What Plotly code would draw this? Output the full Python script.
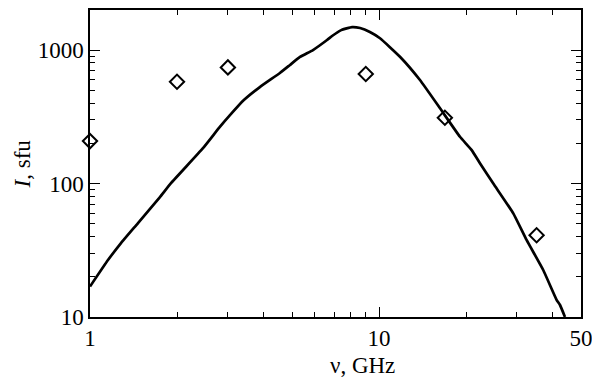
import plotly.graph_objects as go

# Observed flux (diamonds)
obs_freq = [1.0, 2.0, 3.0, 9.0, 16.9, 35.1]
obs_flux = [208, 579, 741, 661, 311, 41]

# Model spectrum (solid line)
model_freq = [1.0, 1.154, 1.28, 1.466, 1.746, 1.91, 2.46, 2.8, 3.05, 3.4, 3.87, 4.54, 4.92, 5.33,
              5.91, 6.61, 6.9, 7.4, 8.07, 8.6, 9.3, 10.08, 11.82, 13.86, 16.26, 19.06,
              20.93, 22.35, 24.86, 29.15, 32.4, 37.0, 41.2, 42.3, 44.0]
model_flux = [16.9, 26.7, 35.8, 50.6, 79.2, 101, 184, 262, 325, 420, 528, 673, 773, 887,
              1000, 1189, 1280, 1410, 1486, 1462, 1365, 1225, 891, 596, 366, 224,
              178, 142, 100, 59.8, 37.8, 22.5, 13.4, 12.3, 10]

x_major = [1, 10, 50]
x_major_text = ["1", "10", "50"]
x_minor = [2, 3, 4, 5, 6, 7, 8, 9, 20, 30, 40]
y_major = [10, 100, 1000]
y_major_text = ["10", "100", "1000"]
y_minor = [20, 30, 40, 50, 60, 70, 80, 90, 200, 300, 400, 500, 600, 700, 800, 900, 2000]

FONT = "Liberation Serif, Times New Roman, Times, DejaVu Serif, serif"

fig = go.Figure()
fig.add_trace(go.Scatter(x=model_freq, y=model_flux, mode="lines",
                         line=dict(color="black", width=2.7, shape="spline", smoothing=0.4),
                         showlegend=False, hoverinfo="skip"))
fig.add_trace(go.Scatter(x=obs_freq, y=obs_flux, mode="markers",
                         marker=dict(symbol="diamond-open", size=11, color="black",
                                     line=dict(width=2, color="black")),
                         showlegend=False, cliponaxis=False))

axis_common = dict(
    type="log", showgrid=False, zeroline=False, showline=True, linecolor="black",
    linewidth=1.5, mirror="ticks", ticks="inside", ticklen=10, tickwidth=1.3,
    tickcolor="black", tickfont=dict(family=FONT, size=23, color="black"),
    automargin=False, ticklabeloverflow="allow",
)

fig.update_xaxes(**axis_common, range=[0, 1.69897], tickmode="array",
                 tickvals=x_major, ticktext=x_major_text,
                 minor=dict(tickmode="array", tickvals=x_minor, ticks="inside",
                            ticklen=5, tickwidth=1.3, tickcolor="black"))
fig.update_yaxes(**axis_common, range=[1, 3.30], tickmode="array",
                 tickvals=y_major, ticktext=y_major_text,
                 minor=dict(tickmode="array", tickvals=y_minor, ticks="inside",
                            ticklen=5, tickwidth=1.3, tickcolor="black"))

fig.add_annotation(text="ν, GHz", xref="paper", yref="paper", x=0.554, y=-0.158,
                   xanchor="center", yanchor="middle", showarrow=False,
                   font=dict(family=FONT, size=23, color="black"))
fig.add_annotation(text="<i>I</i>, sfu", xref="paper", yref="paper", x=-0.1365, y=0.5,
                   xanchor="center", yanchor="middle", showarrow=False, textangle=-90,
                   font=dict(family=FONT, size=23, color="black"))

fig.update_layout(
    width=592, height=377, margin=dict(l=90, r=11, t=10, b=60),
    paper_bgcolor="white", plot_bgcolor="white",
)

fig.write_html("out.html")
